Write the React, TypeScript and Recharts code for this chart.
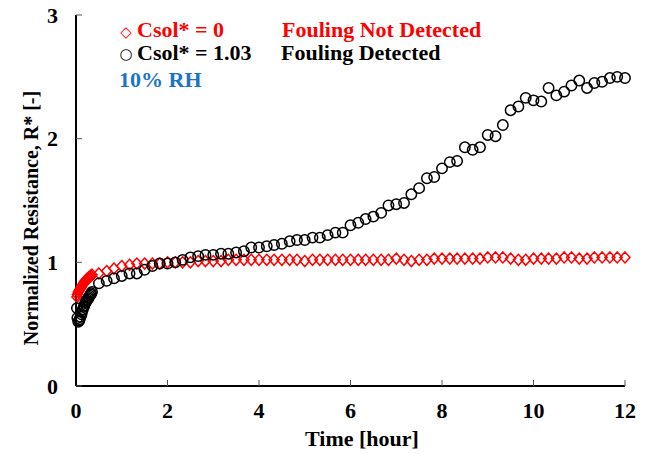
import { ScatterChart, Scatter, XAxis, YAxis } from 'recharts'

// first minutes, sampled densely
const earlyTime = [0.02, 0.03, 0.05, 0.07, 0.08, 0.1, 0.12, 0.13, 0.15, 0.17, 0.18, 0.2, 0.22, 0.23, 0.25, 0.27, 0.28, 0.3, 0.32, 0.33, 0.35]
const earlyClean = [0.72, 0.74, 0.76, 0.77, 0.78, 0.79, 0.8, 0.81, 0.82, 0.83, 0.84, 0.85, 0.85, 0.86, 0.87, 0.87, 0.88, 0.88, 0.89, 0.89, 0.9]
const earlyFoul = [0.63, 0.55, 0.52, 0.53, 0.54, 0.56, 0.58, 0.6, 0.62, 0.64, 0.65, 0.67, 0.68, 0.69, 0.7, 0.71, 0.72, 0.73, 0.74, 0.75, 0.76]

// every 10 minutes afterwards
const time = [
  0.5, 0.67, 0.83, 1, 1.17, 1.33, 1.5, 1.67, 1.83, 2,
  2.17, 2.33, 2.5, 2.67, 2.83, 3, 3.17, 3.33, 3.5, 3.67,
  3.83, 4, 4.17, 4.33, 4.5, 4.67, 4.83, 5, 5.17, 5.33,
  5.5, 5.67, 5.83, 6, 6.17, 6.33, 6.5, 6.67, 6.83, 7,
  7.17, 7.33, 7.5, 7.67, 7.83, 8, 8.17, 8.33, 8.5, 8.67,
  8.83, 9, 9.17, 9.33, 9.5, 9.67, 9.83, 10, 10.17, 10.33,
  10.5, 10.67, 10.83, 11, 11.17, 11.33, 11.5, 11.67, 11.83, 12,
]
const clean = [
  0.91, 0.93, 0.95, 0.97, 0.98, 0.99, 0.99, 0.99, 0.99, 1.0,
  1.0, 1.0, 1.0, 1.01, 1.01, 1.01, 1.01, 1.02, 1.02, 1.02,
  1.02, 1.02, 1.02, 1.02, 1.02, 1.02, 1.02, 1.01, 1.02, 1.02,
  1.02, 1.02, 1.02, 1.02, 1.02, 1.02, 1.02, 1.02, 1.02, 1.03,
  1.02, 1.01, 1.02, 1.02, 1.03, 1.03, 1.03, 1.03, 1.03, 1.03,
  1.03, 1.04, 1.04, 1.04, 1.03, 1.02, 1.02, 1.03, 1.03, 1.03,
  1.03, 1.04, 1.04, 1.03, 1.03, 1.04, 1.04, 1.04, 1.04, 1.04,
]
const foul = [
  0.83, 0.85, 0.87, 0.89, 0.91, 0.91, 0.94, 0.97, 0.99, 0.99,
  1.0, 1.02, 1.04, 1.05, 1.06, 1.06, 1.07, 1.07, 1.08, 1.09,
  1.12, 1.12, 1.13, 1.14, 1.15, 1.17, 1.18, 1.18, 1.2, 1.2,
  1.22, 1.24, 1.24, 1.3, 1.32, 1.35, 1.37, 1.4, 1.46, 1.47,
  1.48, 1.55, 1.6, 1.68, 1.69, 1.76, 1.81, 1.82, 1.93, 1.91,
  1.93, 2.03, 2.02, 2.11, 2.23, 2.26, 2.33, 2.31, 2.3, 2.41,
  2.35, 2.38, 2.43, 2.47, 2.41, 2.45, 2.46, 2.49, 2.5, 2.49,
]

const xTicks = [0, 2, 4, 6, 8, 10, 12]
const yTicks = [0, 1, 2, 3]

const cleanData = [
  ...earlyTime.map((t, i) => ({ t, r: earlyClean[i] })),
  ...time.map((t, i) => ({ t, r: clean[i] })),
]
const foulData = [
  ...earlyTime.map((t, i) => ({ t, r: earlyFoul[i] })),
  ...time.map((t, i) => ({ t, r: foul[i] })),
]

const FONT = 'Liberation Serif, Times New Roman, serif'
const tickStyle = { fill: '#000', fontSize: 22, fontWeight: 'bold', fontFamily: FONT }

const Diamond = ({ cx, cy }: any) => (
  <polygon points={`${cx},${cy - 5.5} ${cx + 5},${cy} ${cx},${cy + 5.5} ${cx - 5},${cy}`} fill="none" stroke="#ff0000" strokeWidth={1.5} />
)
const Ring = ({ cx, cy }: any) => (
  <circle cx={cx} cy={cy} r={5.2} fill="none" stroke="#000" strokeWidth={1.5} />
)

const Notes = () => (
  <g fontFamily={FONT} fontWeight="bold" fontSize={22}>
    <text x={126} y={37} fontSize={15} fill="#ff0000" textAnchor="middle" fontFamily="DejaVu Sans">◇</text>
    <text x={137} y={37} fill="#ff0000">Csol* = 0</text>
    <text x={282} y={37} fill="#ff0000">Fouling Not Detected</text>
    <text x={126} y={59} fontSize={15} fill="#000" textAnchor="middle" fontFamily="DejaVu Sans">○</text>
    <text x={137} y={60} fill="#000">Csol* = 1.03</text>
    <text x={281} y={60} fill="#000">Fouling Detected</text>
    <text x={119} y={87} fill="#1a75c4">10% RH</text>
    <text x={362} y={446} textAnchor="middle" fill="#000">Time [hour]</text>
    <text x={38} y={218} textAnchor="middle" fill="#000" fontSize={20} transform="rotate(-90, 38, 218)">Normalized Resistance, R* [-]</text>
  </g>
)

export default function App() {
  return (
    <div style={{ position: 'absolute', left: 0, top: 0, background: '#fff' }}>
      <ScatterChart width={653} height={454} margin={{ top: 15, right: 28, bottom: 0, left: 0 }}>
        <XAxis
          type="number" dataKey="t" domain={[0, 12]} ticks={xTicks} height={68}
          tick={tickStyle} tickSize={-6} tickMargin={22}
          axisLine={{ stroke: '#000', strokeWidth: 2 }} tickLine={{ stroke: '#555', strokeWidth: 1 }}
        />
        <YAxis
          type="number" dataKey="r" domain={[0, 3]} ticks={yTicks} width={76}
          tick={tickStyle} tickSize={-6} tickMargin={24}
          axisLine={{ stroke: '#000', strokeWidth: 2 }} tickLine={{ stroke: '#555', strokeWidth: 1 }}
        />
        <XAxis xAxisId="top" orientation="top" type="number" domain={[0, 12]} height={0} tick={false} tickLine={false} axisLine={{ stroke: '#000', strokeWidth: 2 }} />
        <YAxis yAxisId="right" orientation="right" type="number" domain={[0, 3]} width={0} tick={false} tickLine={false} axisLine={{ stroke: '#000', strokeWidth: 2 }} />
        <Scatter data={cleanData} shape={<Diamond />} isAnimationActive={false} />
        <Scatter data={foulData} shape={<Ring />} isAnimationActive={false} />
        <Notes />
      </ScatterChart>
    </div>
  )
}
